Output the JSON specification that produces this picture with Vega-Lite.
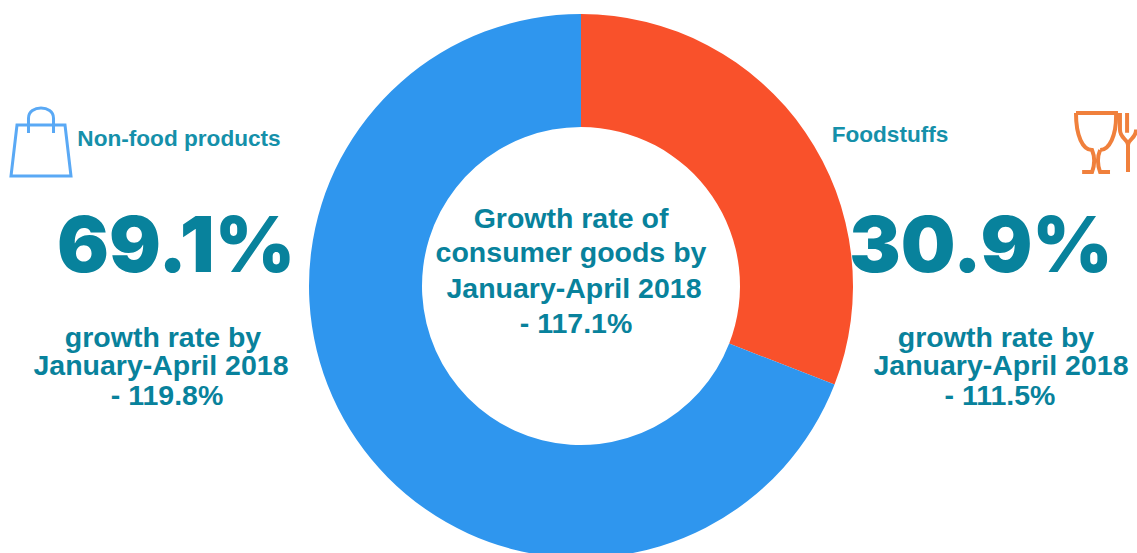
{"$schema":"https://vega.github.io/schema/vega-lite/v6.json","width":1137,"height":553,"padding":0,"autosize":{"type":"fit","contains":"padding"},"background":"white","config":{"view":{"stroke":null}},
"data":{"values":[
{"kind":"share","slot":0,"category":"Foodstuffs","share":30.9},
{"kind":"share","slot":0,"category":"Non-food products","share":69.1},
{"kind":"body","slot":1,"label":"Growth rate of"},
{"kind":"body","slot":2,"label":"consumer goods by"},
{"kind":"body","slot":3,"label":"January-April 2018"},
{"kind":"body","slot":4,"label":"- 117.1%"},
{"kind":"body","slot":5,"label":"growth rate by"},
{"kind":"body","slot":6,"label":"January-April 2018"},
{"kind":"body","slot":7,"label":"- 119.8%"},
{"kind":"body","slot":8,"label":"growth rate by"},
{"kind":"body","slot":9,"label":"January-April 2018"},
{"kind":"body","slot":10,"label":"- 111.5%"},
{"kind":"name","slot":11,"label":"Non-food products"},
{"kind":"name","slot":12,"label":"Foodstuffs"},
{"kind":"big","slot":13,"label":"69.1%"},
{"kind":"big","slot":14,"label":"30.9%"},
{"kind":"bag","slot":15},
{"kind":"cutlery","slot":16}
]},
"encoding":{
"x":{"field":"slot","type":"quantitative","axis":null,"scale":{"nice":false,"zero":false,"domain":[0,1,2,3,4,5,6,7,8,9,10,11,12,13,14,15,16],"range":[581,571,571,574,576,163,161,167,996,1001,1000,179,890,176,981,41,1106]}},
"y":{"field":"slot","type":"quantitative","axis":null,"scale":{"nice":false,"zero":false,"domain":[0,1,2,3,4,5,6,7,8,9,10,11,12,13,14,15,16],"range":[286,219,253,289,324,338,366,396,338,366,396,139,135,249,249,142,142]}}
},
"layer":[
{"transform":[{"filter":"datum.kind==='share'"}],
"mark":{"type":"arc","innerRadius":159,"outerRadius":272,"stroke":null},
"encoding":{"theta":{"field":"share","type":"quantitative","stack":true,"scale":{"domain":[0,100],"range":[0,6.2832]}},"order":{"field":"category","sort":"ascending"},"color":{"field":"category","type":"nominal","legend":null,"scale":{"domain":["Foodstuffs","Non-food products"],"range":["#F9512B","#2F96EE"]}}}},
{"transform":[{"filter":"datum.kind==='body'"}],
"mark":{"type":"text","align":"center","baseline":"middle","color":"#08829C","font":"Liberation Sans","fontWeight":"bold","fontSize":28.5},
"encoding":{"text":{"field":"label"}}},
{"transform":[{"filter":"datum.kind==='name'"}],
"mark":{"type":"text","align":"center","baseline":"middle","color":"#1590AA","font":"Liberation Sans","fontWeight":"bold","fontSize":22.6},
"encoding":{"text":{"field":"label"}}},
{"transform":[{"filter":"datum.kind==='big'"}],
"mark":{"type":"text","align":"center","baseline":"middle","color":"#08829C","font":"Inter","fontWeight":900,"fontSize":77},
"encoding":{"text":{"field":"label"}}},
{"transform":[{"filter":"datum.kind==='bag'"}],
"mark":{"type":"point","filled":false,"size":4624,"stroke":"#5AA9F5","strokeWidth":3,"opacity":1,"shape":"M-0.706 -0.5 L0.706 -0.5 L0.882 1 L-0.882 1 Z M-0.368 -0.265 L-0.368 -0.7 C-0.368 -1.1 0.368 -1.1 0.368 -0.7 L0.368 -0.265"}},
{"transform":[{"filter":"datum.kind==='cutlery'"}],
"mark":{"type":"point","filled":false,"size":3844,"stroke":"#F0803C","strokeWidth":4,"opacity":1,"shape":"M-0.968 -0.935 L0.323 -0.935 C0.35 -0.2 0.1 0.26 -0.19 0.26 M-0.968 -0.935 C-0.97 -0.2 -0.75 0.26 -0.45 0.26 C-0.35 0.5 -0.35 0.7 -0.45 0.97 L-0.77 0.97 M-0.19 0.26 C-0.29 0.5 -0.29 0.7 -0.19 0.97 L0.13 0.97 M0.45 -0.935 L0.45 -0.4 C0.45 -0.1 0.71 -0.1 0.71 0.1 L0.71 0.97 M0.68 -0.935 L0.68 -0.3 M0.97 -0.4 C0.97 -0.1 0.71 -0.1 0.71 0.1"}}
]}
